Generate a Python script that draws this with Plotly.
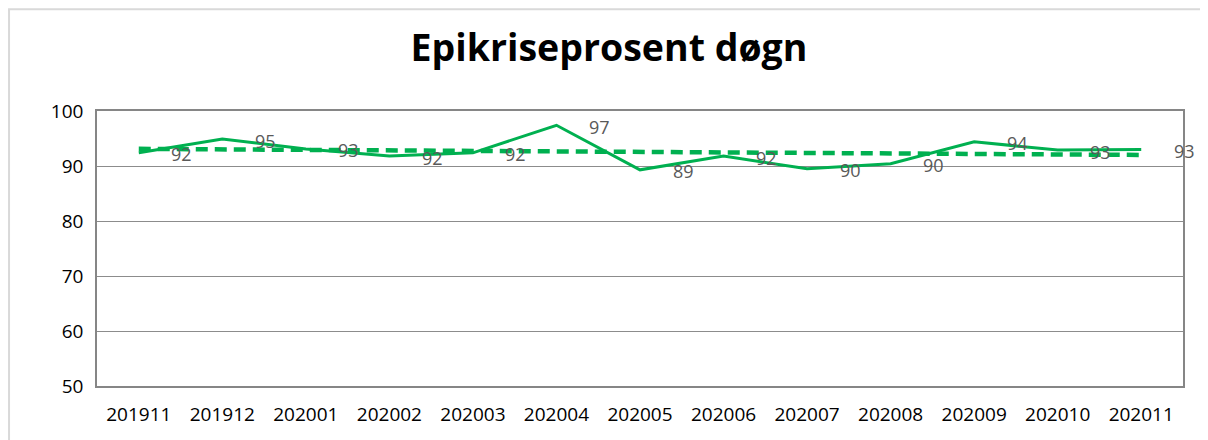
import numpy as np
import plotly.graph_objects as go

categories = ["201911", "201912", "202001", "202002", "202003", "202004", "202005",
              "202006", "202007", "202008", "202009", "202010", "202011"]
values = [92.4, 94.9, 93.1, 91.8, 92.4, 97.4, 89.3, 91.8, 89.5, 90.4, 94.4, 92.9, 93.0]
y_ticks = [50, 60, 70, 80, 90, 100]
title_text = "Epikriseprosent døgn"

green = "#00B050"

# linear trendline (as Excel computes it)
idx = np.arange(len(values))
slope, intercept = np.polyfit(idx, values, 1)
trend = list(slope * idx + intercept)

fig = go.Figure()
fig.add_trace(go.Scatter(x=categories, y=trend, mode="lines",
                         line=dict(color=green, width=4.5, dash="12px,7px"),
                         hoverinfo="skip", showlegend=False))
fig.add_trace(go.Scatter(x=categories, y=values, mode="lines",
                         line=dict(color=green, width=3),
                         showlegend=False))

for i, v in enumerate(values):
    fig.add_annotation(x=i, y=v, xref="x", yref="y", text=str(int(round(v))),
                       showarrow=False, xshift=43, yshift=-1.5,
                       font=dict(family="Open Sans", size=18, color="#595959"))

# outer chart border
fig.add_shape(type="rect", xref="paper", yref="paper",
              x0=-0.081, x1=1.06, y0=-0.3, y1=1.37,
              line=dict(color="#D9D9D9", width=2), fillcolor="rgba(0,0,0,0)", layer="below")

fig.update_layout(
    width=1200, height=432,
    margin=dict(l=89, r=25, t=103, b=54),
    paper_bgcolor="white", plot_bgcolor="white",
    title=dict(text=f"<b>{title_text}</b>", x=601 / 1200, xanchor="center",
               y=1 - 40 / 432, yanchor="middle",
               font=dict(family="Open Sans", size=37.5, color="#000000")),
    font=dict(family="Open Sans", size=19, color="#262626"),
)
fig.update_xaxes(type="category", categoryorder="array", categoryarray=categories,
                 range=[-0.5, len(categories) - 0.5],
                 showline=True, linecolor="#868686", linewidth=1.5, mirror=True,
                 showgrid=False, ticks="", ticklabelstandoff=10,
                 tickfont=dict(family="Open Sans", size=19, color="#000000"))
fig.update_yaxes(range=[50, 100], tickvals=y_ticks,
                 showline=True, linecolor="#868686", linewidth=1.5, mirror=True,
                 showgrid=True, gridcolor="#8C8C8C", gridwidth=1,
                 zeroline=False, ticks="", ticklabelstandoff=8,
                 tickfont=dict(family="Open Sans", size=19, color="#000000"))

fig.write_html("out.html")
